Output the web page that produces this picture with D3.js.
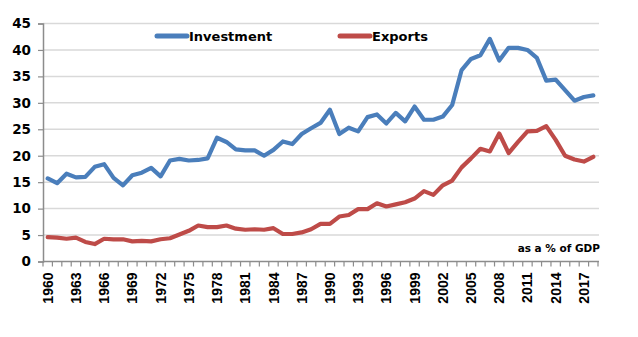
<!DOCTYPE html>
<html><head><meta charset="utf-8">
<script src="https://cdn.jsdelivr.net/npm/d3@7"></script>
<style>body{margin:0;background:#fff}svg{display:block}</style>
</head><body>
<svg id="c" width="638" height="337"></svg>
<script>
const years = d3.range(1960, 2019);
const investment = [15.7,14.8,16.6,15.9,16.0,17.9,18.4,15.8,14.4,16.3,16.8,17.7,16.1,19.1,19.4,19.1,19.2,19.5,23.4,22.6,21.2,21.0,21.0,20.0,21.1,22.7,22.2,24.1,25.2,26.2,28.7,24.1,25.3,24.6,27.3,27.8,26.1,28.1,26.5,29.3,26.8,26.8,27.4,29.6,36.2,38.3,39.0,42.1,38.0,40.4,40.4,40.0,38.5,34.2,34.4,32.4,30.4,31.1,31.4];
const exportsS = [4.6,4.5,4.3,4.5,3.7,3.3,4.3,4.2,4.2,3.8,3.9,3.8,4.2,4.4,5.1,5.8,6.8,6.5,6.5,6.8,6.2,6.0,6.1,6.0,6.3,5.2,5.2,5.5,6.1,7.1,7.1,8.5,8.8,9.9,9.9,11.0,10.4,10.8,11.2,11.9,13.3,12.6,14.4,15.3,17.8,19.5,21.3,20.8,24.2,20.5,22.6,24.6,24.7,25.6,23.0,20.0,19.3,18.9,19.8];
const yTicks = [0,5,10,15,20,25,30,35,40,45];
const xLabelYears = d3.range(1960, 2019, 3);
const seriesNames = ["Investment","Exports"];
const colors = ["#4A7EBB","#BE4B48"];

const svg = d3.select("#c");
const L = 43, R = 598, T = 23.5, B = 261.5;
const x = d3.scaleBand().domain(years).range([L, R]).paddingInner(0).paddingOuter(0);
const bw = x.bandwidth();
const cx = yr => x(yr) + bw/2;
const y = d3.scaleLinear().domain([0,45]).range([B, T]);

// gridlines
svg.append("g").selectAll("line").data(yTicks.filter(d=>d>0)).join("line")
  .attr("x1", L).attr("x2", 599).attr("y1", d=>y(d)).attr("y2", d=>y(d))
  .attr("stroke", "#d9d9d9").attr("stroke-width", 1.5);

// y axis
const ya = svg.append("g").attr("transform", `translate(${L},0)`)
  .call(d3.axisLeft(y).tickValues(yTicks).tickSize(5).tickPadding(6));
ya.select(".domain").attr("stroke", "#8c8c8c").attr("stroke-width", 1.5);
ya.selectAll(".tick line").attr("stroke", "#8c8c8c").attr("stroke-width", 1.2);
ya.selectAll("text").attr("font-family", "DejaVu Sans").attr("font-weight", "bold")
  .attr("font-size", 13.5).attr("fill", "#000").attr("x", -12);

// x axis
const xa = svg.append("g").attr("transform", `translate(0,${B})`);
xa.append("line").attr("x1", L).attr("x2", 599).attr("stroke", "#8c8c8c").attr("stroke-width", 1.5);
xa.selectAll(".tk").data(years.concat([2019])).join("line").attr("class","tk")
  .attr("x1", d=> d===2019 ? R : x(d)).attr("x2", d=> d===2019 ? R : x(d))
  .attr("y1", 0).attr("y2", 5).attr("stroke", "#8c8c8c").attr("stroke-width", 1.2);
xa.selectAll("text").data(xLabelYears).join("text")
  .attr("transform", d=>`translate(${cx(d)},11) rotate(-90)`)
  .attr("text-anchor", "end").attr("dy", "0.36em")
  .attr("font-family", "Liberation Sans").attr("font-weight", "bold").attr("font-size", 14)
  .attr("fill", "#000").text(d=>d);

// lines
const line = d3.line().x((d,i)=>cx(years[i])).y(d=>y(d));
[investment, exportsS].forEach((s, k) => {
  svg.append("path").datum(s).attr("d", line).attr("fill", "none")
    .attr("stroke", colors[k]).attr("stroke-width", 4.2)
    .attr("stroke-linejoin", "round").attr("stroke-linecap", "round");
});

// legend
const leg = [{x:157},{x:340}];
leg.forEach((p,k)=>{
  svg.append("line").attr("x1", p.x).attr("x2", p.x+30).attr("y1", 36).attr("y2", 36)
    .attr("stroke", colors[k]).attr("stroke-width", 5).attr("stroke-linecap", "round");
  svg.append("text").attr("x", p.x+32).attr("y", 41).attr("font-family", "DejaVu Sans")
    .attr("font-weight", "bold").attr("font-size", 13).attr("fill", "#000").text(seriesNames[k]);
});

svg.append("text").attr("x", 600).attr("y", 252).attr("text-anchor", "end")
  .attr("font-family", "DejaVu Sans").attr("font-weight", "bold").attr("font-size", 10.5)
  .attr("fill", "#000").text("as a % of GDP");
</script>
</body></html>
